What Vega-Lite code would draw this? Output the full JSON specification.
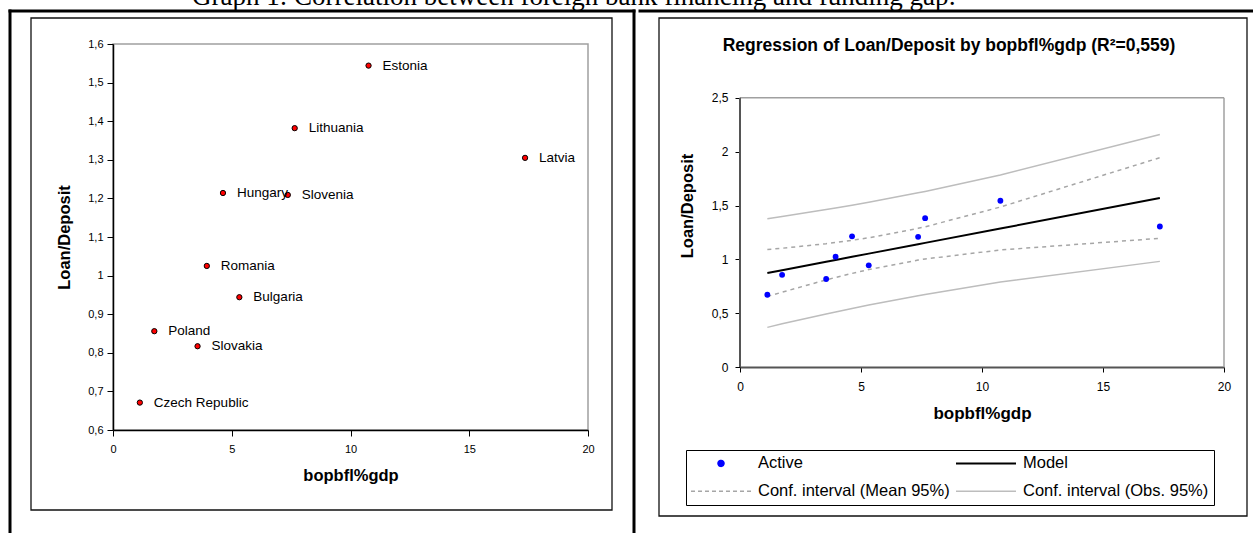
{
  "$schema": "https://vega.github.io/schema/vega-lite/v6.json",
  "autosize": {"type": "none"},
  "padding": {"left": 113, "top": 44, "right": 1140, "bottom": 489},
  "title": {
    "text": "Graph 1: Correlation between foreign bank financing and funding gap:",
    "font": "Liberation Serif", "fontSize": 27, "fontWeight": "normal", "color": "#000000",
    "anchor": "middle", "frame": "group", "dx": 461, "offset": -24, "baseline": "alphabetic"
  },
  "resolve": {"legend": {"color": "independent"}},
  "datasets": {
    "countries": [
      {"country": "Estonia", "bopbfl_gdp": 10.76, "loan_deposit": 1.544},
      {"country": "Lithuania", "bopbfl_gdp": 7.65, "loan_deposit": 1.382},
      {"country": "Latvia", "bopbfl_gdp": 17.35, "loan_deposit": 1.305},
      {"country": "Hungary", "bopbfl_gdp": 4.63, "loan_deposit": 1.214},
      {"country": "Slovenia", "bopbfl_gdp": 7.36, "loan_deposit": 1.209},
      {"country": "Romania", "bopbfl_gdp": 3.95, "loan_deposit": 1.025},
      {"country": "Bulgaria", "bopbfl_gdp": 5.32, "loan_deposit": 0.944},
      {"country": "Poland", "bopbfl_gdp": 1.74, "loan_deposit": 0.856},
      {"country": "Slovakia", "bopbfl_gdp": 3.56, "loan_deposit": 0.817},
      {"country": "Czech Republic", "bopbfl_gdp": 1.13, "loan_deposit": 0.671}
    ],
    "fit": [
      {"x": 1.13, "model": 0.873, "meanLo": 0.655, "meanHi": 1.091, "obsLo": 0.368, "obsHi": 1.377},
      {"x": 1.74, "model": 0.899, "meanLo": 0.695, "meanHi": 1.103, "obsLo": 0.401, "obsHi": 1.397},
      {"x": 3.56, "model": 0.977, "meanLo": 0.809, "meanHi": 1.145, "obsLo": 0.492, "obsHi": 1.462},
      {"x": 3.95, "model": 0.994, "meanLo": 0.832, "meanHi": 1.156, "obsLo": 0.511, "obsHi": 1.477},
      {"x": 4.63, "model": 1.023, "meanLo": 0.869, "meanHi": 1.177, "obsLo": 0.543, "obsHi": 1.503},
      {"x": 5.32, "model": 1.053, "meanLo": 0.905, "meanHi": 1.2, "obsLo": 0.575, "obsHi": 1.531},
      {"x": 7.36, "model": 1.14, "meanLo": 0.993, "meanHi": 1.288, "obsLo": 0.662, "obsHi": 1.618},
      {"x": 7.65, "model": 1.153, "meanLo": 1.003, "meanHi": 1.302, "obsLo": 0.674, "obsHi": 1.631},
      {"x": 10.76, "model": 1.286, "meanLo": 1.087, "meanHi": 1.486, "obsLo": 0.79, "obsHi": 1.783},
      {"x": 17.35, "model": 1.57, "meanLo": 1.195, "meanHi": 1.944, "obsLo": 0.981, "obsHi": 2.159}
    ],
    "one": [{}]
  },
  "spacing": 0,
  "hconcat": [
    {
      "width": 475,
      "height": 386,
      "layer": [
        {
          "data": {"name": "countries"},
          "mark": {"type": "point", "filled": true, "fill": "#ff0000", "stroke": "#000000", "strokeWidth": 1, "size": 28, "opacity": 1},
          "encoding": {
            "x": {"field": "bopbfl_gdp", "type": "quantitative", "scale": {"domain": [0, 20], "nice": false, "zero": false},
              "axis": {"title": "bopbfl%gdp", "values": [0, 5, 10, 15, 20], "tickCount": 20, "labelFontSize": 11, "tickSize": 6, "labelPadding": 7, "titlePadding": 13, "titleFontSize": 16.5, "titleFontWeight": "bold", "domainWidth": 1.5}},
            "y": {"field": "loan_deposit", "type": "quantitative", "scale": {"domain": [0.6, 1.6], "nice": false, "zero": false},
              "axis": {"title": "Loan/Deposit", "values": [0.6, 0.7, 0.8, 0.9, 1, 1.1, 1.2, 1.3, 1.4, 1.5, 1.6], "tickCount": 20, "labelExpr": "replace(toString(round(datum.value * 10) / 10), '.', ',')", "labelFontSize": 11, "tickSize": 6, "labelPadding": 4, "titlePadding": 15, "titleFontSize": 16.5, "titleFontWeight": "bold", "domainWidth": 1.5}}
          }
        },
        {
          "data": {"name": "countries"},
          "mark": {"type": "text", "align": "left", "baseline": "middle", "dx": 14, "fontSize": 13.5, "font": "Liberation Sans", "color": "#000000"},
          "encoding": {
            "x": {"field": "bopbfl_gdp", "type": "quantitative"},
            "y": {"field": "loan_deposit", "type": "quantitative"},
            "text": {"field": "country"}
          }
        },
        {
          "data": {"name": "one"},
          "mark": {"type": "rect", "fill": null, "fillOpacity": 0, "stroke": "#111111", "strokeWidth": 1.3},
          "encoding": {
            "x": {"datum": -3.4526, "type": "quantitative"}, "x2": {"datum": 21.0105},
            "y": {"datum": 1.66736, "type": "quantitative"}, "y2": {"datum": 0.39275}
          }
        },
        {
          "data": {"name": "one"},
          "mark": {"type": "rule", "stroke": "#000000", "strokeWidth": 3, "strokeCap": "square"},
          "encoding": {
            "x": {"datum": -4.3368, "type": "quantitative"}, "x2": {"datum": 21.9368},
            "y": {"datum": 1.6855, "type": "quantitative"}
          }
        },
        {
          "data": {"name": "one"},
          "mark": {"type": "rule", "stroke": "#000000", "strokeWidth": 3, "strokeCap": "square"},
          "encoding": {
            "x": {"datum": -4.3368, "type": "quantitative"},
            "y": {"datum": 1.6855, "type": "quantitative"}, "y2": {"datum": 0.33316}
          }
        },
        {
          "data": {"name": "one"},
          "mark": {"type": "rule", "stroke": "#000000", "strokeWidth": 3, "strokeCap": "square"},
          "encoding": {
            "x": {"datum": 21.9368, "type": "quantitative"},
            "y": {"datum": 1.6855, "type": "quantitative"}, "y2": {"datum": 0.33316}
          }
        }
      ]
    },
    {
      "width": 484,
      "height": 323,
      "view": {"stroke": null},
      "title": {
        "text": "Regression of Loan/Deposit by bopbfl%gdp (R²=0,559)",
        "font": "Liberation Sans", "fontSize": 17.5, "fontWeight": "bold", "color": "#000000",
        "anchor": "middle", "frame": "group", "dx": -33, "offset": -64, "baseline": "bottom"
      },
      "layer": [
        {
          "data": {"name": "fit"},
          "mark": {"type": "line", "strokeWidth": 1.5},
          "encoding": {
            "x": {"field": "x", "type": "quantitative", "scale": {"domain": [0, 20], "nice": false, "zero": false},
              "axis": {"title": "bopbfl%gdp", "values": [0, 5, 10, 15, 20], "tickCount": 20, "labelFontSize": 12, "tickSize": 5, "labelPadding": 9, "titlePadding": 13, "titleFontSize": 17, "titleFontWeight": "bold", "domainWidth": 2, "domainColor": "#555555"}},
            "y": {"field": "obsHi", "type": "quantitative", "scale": {"domain": [0, 3], "nice": false, "zero": false},
              "axis": {"title": "Loan/Deposit", "values": [0, 0.5, 1, 1.5, 2, 2.5], "tickCount": 20, "labelExpr": "replace(toString(datum.value), '.', ',')", "labelFontSize": 12, "tickSize": 5, "labelPadding": 7, "titlePadding": 16, "titleFontSize": 16.5, "titleFontWeight": "bold", "domain": false}},
            "color": {
              "datum": "Conf. interval (Obs. 95%)",
              "scale": {"domain": ["Active", "Model", "Conf. interval (Mean 95%)", "Conf. interval (Obs. 95%)"], "range": ["#0000ff", "#000000", "#a6a6a6", "#bdbdbd"]},
              "legend": {
                "title": null, "orient": "none", "legendX": -54, "legendY": 406, "direction": "horizontal", "columns": 2,
                "symbolType": "stroke", "symbolSize": 3600, "labelOffset": 12, "columnPadding": 2, "rowPadding": 11, "padding": 5, "labelLimit": 400,
                "strokeColor": "#000000", "labelFontSize": 16.5, "labelFont": "Liberation Sans", "labelColor": "#000000",
                "encode": {
                  "symbols": {
                    "update": {
                      "x": {"value": 30},
                      "shape": {"signal": "datum.value === 'Active' ? 'circle' : 'stroke'"},
                      "size": {"signal": "datum.value === 'Active' ? 36 : 3600"},
                      "fill": {"signal": "datum.value === 'Active' ? '#0000ff' : 'transparent'"},
                      "stroke": {"signal": "datum.value === 'Active' ? 'transparent' : (datum.value === 'Model' ? '#000000' : (datum.value === 'Conf. interval (Mean 95%)' ? '#a6a6a6' : '#bdbdbd'))"},
                      "strokeWidth": {"signal": "datum.value === 'Model' ? 2 : 1.5"},
                      "strokeDash": {"signal": "datum.value === 'Conf. interval (Mean 95%)' ? [4, 3] : [1, 0]"},
                      "opacity": {"value": 1}
                    }
                  },
                  "labels": {
                    "update": {
                      "x": {"value": 67}
                    }
                  }
                }
              }
            }
          }
        },
        {
          "data": {"name": "fit"},
          "mark": {"type": "line", "strokeWidth": 1.5},
          "encoding": {
            "x": {"field": "x", "type": "quantitative"},
            "y": {"field": "obsLo", "type": "quantitative"},
            "color": {"datum": "Conf. interval (Obs. 95%)"}
          }
        },
        {
          "data": {"name": "fit"},
          "mark": {"type": "line", "strokeWidth": 1.5, "strokeDash": [4, 4]},
          "encoding": {
            "x": {"field": "x", "type": "quantitative"},
            "y": {"field": "meanHi", "type": "quantitative"},
            "color": {"datum": "Conf. interval (Mean 95%)"}
          }
        },
        {
          "data": {"name": "fit"},
          "mark": {"type": "line", "strokeWidth": 1.5, "strokeDash": [4, 4]},
          "encoding": {
            "x": {"field": "x", "type": "quantitative"},
            "y": {"field": "meanLo", "type": "quantitative"},
            "color": {"datum": "Conf. interval (Mean 95%)"}
          }
        },
        {
          "data": {"name": "fit"},
          "mark": {"type": "line", "strokeWidth": 2},
          "encoding": {
            "x": {"field": "x", "type": "quantitative"},
            "y": {"field": "model", "type": "quantitative"},
            "color": {"datum": "Model"}
          }
        },
        {
          "data": {"name": "countries"},
          "mark": {"type": "point", "filled": true, "size": 34, "opacity": 1},
          "encoding": {
            "x": {"field": "bopbfl_gdp", "type": "quantitative"},
            "y": {"field": "loan_deposit", "type": "quantitative"},
            "color": {"datum": "Active"}
          }
        },
        {
          "data": {"name": "one"},
          "mark": {"type": "rule", "stroke": "#a0a0a0", "strokeWidth": 1.5},
          "encoding": {
            "x": {"datum": 0, "type": "quantitative"}, "x2": {"datum": 20},
            "y": {"datum": 2.5, "type": "quantitative"}
          }
        },
        {
          "data": {"name": "one"},
          "mark": {"type": "rule", "stroke": "#a0a0a0", "strokeWidth": 1.5},
          "encoding": {
            "x": {"datum": 20, "type": "quantitative"},
            "y": {"datum": 0, "type": "quantitative"}, "y2": {"datum": 2.5}
          }
        },
        {
          "data": {"name": "one"},
          "mark": {"type": "rule", "stroke": "#555555", "strokeWidth": 2},
          "encoding": {
            "x": {"datum": 0, "type": "quantitative"},
            "y": {"datum": 0, "type": "quantitative"}, "y2": {"datum": 2.5}
          }
        },
        {
          "data": {"name": "one"},
          "mark": {"type": "rect", "fill": null, "fillOpacity": 0, "stroke": "#111111", "strokeWidth": 1.3},
          "encoding": {
            "x": {"datum": -3.3471, "type": "quantitative"}, "x2": {"datum": 20.9504},
            "y": {"datum": 3.2415, "type": "quantitative"}, "y2": {"datum": -1.3839}
          }
        },
        {
          "data": {"name": "one"},
          "mark": {"type": "rule", "stroke": "#000000", "strokeWidth": 3, "strokeCap": "square"},
          "encoding": {
            "x": {"datum": -4.1322, "type": "quantitative"}, "x2": {"datum": 21.3223},
            "y": {"datum": 3.3065, "type": "quantitative"}
          }
        }
      ]
    }
  ],
  "config": {
    "font": "Liberation Sans",
    "view": {"stroke": "#a0a0a0", "strokeWidth": 1.5},
    "axis": {"grid": false, "labelFont": "Liberation Sans", "titleFont": "Liberation Sans", "labelColor": "#000000", "titleColor": "#000000", "domainColor": "#000000", "tickColor": "#000000", "labelFlush": false, "labelOverlap": false}
  }
}
